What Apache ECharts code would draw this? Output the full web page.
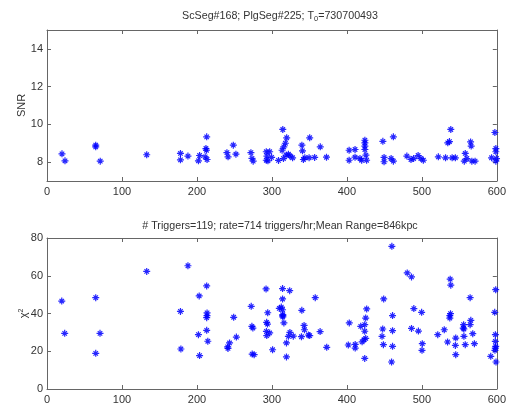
<!DOCTYPE html>
<html><head><meta charset="utf-8">
<script src="https://cdn.jsdelivr.net/npm/echarts@6/dist/echarts.min.js"></script>
<style>html,body{margin:0;padding:0;background:#fff}#c{width:509px;height:409px}</style>
</head><body><div id="c"></div>
<script>
const xTicks = [0, 100, 200, 300, 400, 500, 600];
const snrTicks = [8, 10, 12, 14];
const chiTicks = [0, 20, 40, 60, 80];

const snrTime = [20,24,65,65,71,133,178,178,188,202,203.5,213,212,212.7,211,213.5,240,241.5,248.5,252,272,273.4,275,292.5,293.4,292.5,297,299.6,294.7,308.8,313.6,314.5,315.8,318,319.7,315.4,318.9,322,324,327.6,340,340.8,343.9,342,349.6,350.4,357,364.5,372.8,403,403,410.9,410.9,417.5,419.7,424,424,424,424,425.4,426.3,448,449.6,449.6,459,462,462,480,485.5,489,495,498.7,502,522,531.6,534.6,536.8,538.6,540.4,544.7,556.6,557.9,560,565,565.8,566.7,571,593,597.4,598.7,598.7,599.6,598.7];
const snr = [8.44,8.07,8.9,8.81,8.05,8.39,8.46,8.12,8.32,8.07,8.35,9.34,8.72,8.63,8.28,8.14,8.5,8.28,8.9,8.42,8.5,8.2,8.05,8.55,8.32,8.1,8.55,8.25,8.07,8.09,8.63,9.73,8.81,9.0,9.29,8.19,8.37,8.42,8.33,8.23,8.9,8.6,8.23,8.14,8.23,9.29,8.25,8.81,8.26,8.63,8.1,8.67,8.26,8.19,8.1,9.16,9.02,8.85,8.67,8.37,8.1,9.1,8.25,8.02,8.19,9.34,8.05,8.32,8.14,8.19,8.35,8.19,8.1,8.28,8.23,9.02,9.09,9.73,8.23,8.23,8.05,8.46,8.19,9.07,8.85,8.05,8.05,8.23,9.57,8.72,8.55,8.19,8.05];

const chiTime = [19.7,23.6,65,65,70.7,133,178,178.6,188,203,202,203.5,213,213.5,213.4,213,213,214.5,241,241.4,243.5,249,252.6,272.4,273.3,274.6,273.7,276.3,292.2,294.4,293,294,292.7,297,293.1,300.9,314.2,323.7,314.2,309.9,312.5,314.2,314.5,314.5,314.5,316,324,322,328.5,319.4,319.4,357.8,339.9,342.9,343.4,339.4,348.6,350.4,364.3,373.1,403.2,401.9,411.1,411.1,418.5,420.3,423.8,425.1,426.4,423.8,422.9,425.1,423.8,449.1,447.8,446.9,448.7,460,460.9,460.9,460.9,459.6,480.5,486.2,489.3,499.7,486.2,495.4,500.6,500.2,537.8,538.6,538.2,537.3,537.3,529.9,521.2,534.3,545.2,544.7,545.2,564.4,565.3,564.4,555.7,555.2,556.1,556.1,557.9,567.9,570.1,598.5,597.2,598.1,598,598.5,598,597.5,591.9,598.9];
const chi = [46.6,29.5,48.4,18.9,29.5,62.3,41.1,21.2,65.3,49.3,28.8,17.7,54.6,40.3,38.9,37.8,31.1,25.3,22.3,21.5,24.4,38,27.5,43.8,33.2,32.3,18.5,18.2,53,40.4,35.3,34.4,30.5,29.7,28.3,20.8,53.2,52.1,47.7,42.7,43.4,42,38.9,38.2,39.4,35,30,27.9,28,24.4,17,48.4,41.7,33.7,31.4,27.7,28.6,28.3,30.4,22.1,35,23.3,23.6,21.7,33.2,25,34.1,37.6,42.4,30.6,26.1,26.8,16.2,47.7,31.8,27.9,23.5,75.6,38.9,30.9,22.6,14.3,61.5,59.4,42.6,40.6,32.1,30.7,24,20.5,58.2,55,39.9,38.9,37.6,31.4,28.8,24.9,27,23.1,18.2,48.4,36.4,34.1,34.1,32.3,31.8,27.9,23.5,29.3,24,52.6,40.6,28.8,25.2,22.6,21.7,20.5,17.3,14.3];

const title1 = 'ScSeg#168; PlgSeg#225; T{sub|0}=730700493';
const title2 = '# Triggers=119; rate=714 triggers/hr;Mean Range=846kpc';

const zip = (a, b) => a.map((v, i) => [v, b[i]]);
const axisCol = '#666';
const txtCol = '#333';
const font = 'Liberation Sans, Arial, sans-serif';
const star = 'path://M5,0L5,10M0,5L10,5M1.8,1.8L8.2,8.2M1.8,8.2L8.2,1.8';

function xAx(grid, pos, labels) {
  return {
    type: 'value', gridIndex: grid, position: pos, min: 0, max: 600, interval: 100,
    axisLine: {show: true, onZero: false, lineStyle: {color: axisCol, width: 1}},
    axisTick: {show: true, inside: true, length: 4, lineStyle: {color: axisCol}},
    axisLabel: {show: labels, color: txtCol, fontSize: 11, fontFamily: font, margin: 5,
      customValues: xTicks},
    splitLine: {show: false}
  };
}
function yAx(grid, pos, min, max, ticks, labels, name, gap) {
  return {
    type: 'value', gridIndex: grid, position: pos, min: min, max: max,
    name: name || '', nameLocation: 'middle', nameGap: gap, nameRotate: 90,
    nameMoveOverlap: false,
    nameTextStyle: {color: txtCol, fontSize: 11, fontFamily: font,
      rich: {sup: {fontSize: 7, verticalAlign: 'top', color: txtCol, fontFamily: font}}},
    axisLine: {show: true, onZero: false, lineStyle: {color: axisCol, width: 1}},
    axisTick: {show: true, inside: true, length: 4, customValues: ticks, lineStyle: {color: axisCol}},
    axisLabel: {show: labels, color: txtCol, fontSize: 11, fontFamily: font, margin: 4,
      customValues: ticks},
    splitLine: {show: false}
  };
}

const chart = echarts.init(document.getElementById('c'), null, {renderer: 'canvas'});
chart.setOption({
  animation: false,
  backgroundColor: '#fff',
  title: [
    {text: title1, left: 275, top: 4, textAlign: 'center',
      textStyle: {fontSize: 10.7, fontWeight: 'normal', color: txtCol, fontFamily: font,
        rich: {sub: {fontSize: 7.5, verticalAlign: 'bottom', padding: [6, 0, 0, 0], color: txtCol, fontFamily: font}}}},
    {text: title2, left: 275, top: 216, textAlign: 'center',
      textStyle: {fontSize: 10.7, fontWeight: 'normal', color: txtCol, fontFamily: font}}
  ],
  grid: [
    {left: 47, right: 4, top: 30, height: 151},
    {left: 47, right: 4, top: 238, height: 151}
  ],
  xAxis: [xAx(0, 'bottom', true), xAx(0, 'top', false), xAx(1, 'bottom', true), xAx(1, 'top', false)],
  yAxis: [
    yAx(0, 'left', 7, 15, snrTicks, true, 'SNR', 20),
    yAx(0, 'right', 7, 15, snrTicks, false, '', 0),
    yAx(1, 'left', 0, 80, chiTicks, true, 'χ{sup|2}', 18),
    yAx(1, 'right', 0, 80, chiTicks, false, '', 0)
  ],
  series: [
    {type: 'scatter', xAxisIndex: 0, yAxisIndex: 0, data: zip(snrTime, snr),
      symbol: star, symbolSize: 7, clip: false,
      itemStyle: {color: '#0000ff', borderColor: '#0000ff', borderWidth: 1.2, opacity: 0.85}},
    {type: 'scatter', xAxisIndex: 2, yAxisIndex: 2, data: zip(chiTime, chi),
      symbol: star, symbolSize: 7, clip: false,
      itemStyle: {color: '#0000ff', borderColor: '#0000ff', borderWidth: 1.2, opacity: 0.85}}
  ]
});
</script></body></html>
